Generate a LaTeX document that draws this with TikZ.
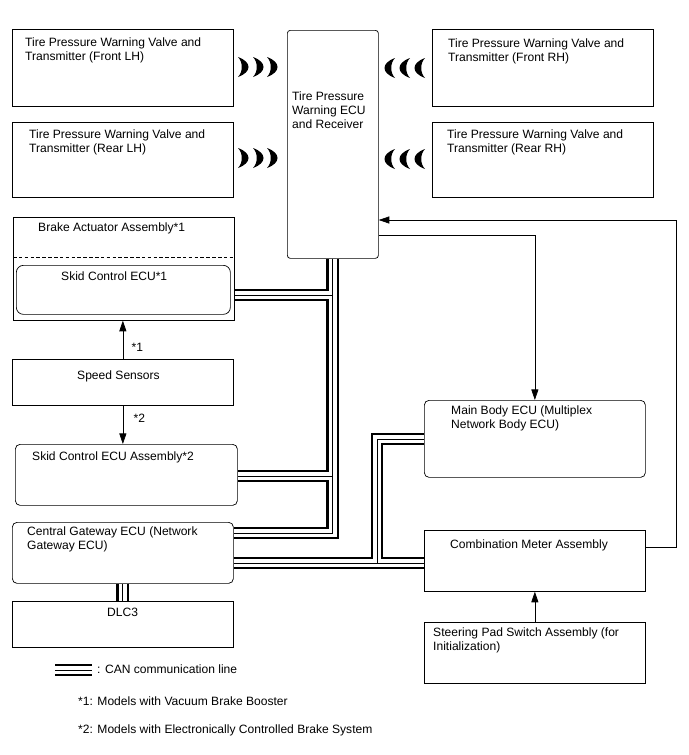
\documentclass[tikz,border=0pt]{standalone}
\usepackage{fontspec}
\setmainfont{Liberation Sans}
\usepackage{tikz}
\usetikzlibrary{positioning,arrows.meta,calc}

\begin{document}
\begin{tikzpicture}[x=0.03cm, y=-0.03cm, font=\fontsize{10.3pt}{11.9pt}\selectfont, >={Triangle[length=9pt,width=6pt]}]
\tikzset{box/.style={draw, line width=0.6pt, anchor=north west, inner sep=0pt, minimum width=6.63cm},
  txt/.style={anchor=north west, inner sep=0pt, align=left},
  can/.style={line width=11pt, postaction={draw, white, line width=6.8pt}, postaction={draw, black, line width=0.85pt}},
  sig/.style={->, line width=0.6pt}}
\useasboundingbox (0,0) rectangle (688,755);
% sensors and receiver
\node[box, minimum height=2.31cm] (fl) at (12,29) {};
\node[box, minimum height=2.25cm] (rl) at (12,122) {};
\node[box, minimum height=2.31cm] (fr) at (432,29) {};
\node[box, minimum height=2.25cm] (rr) at (432,122) {};
\node[box, rounded corners=2.5pt, minimum width=2.73cm, minimum height=6.84cm] (tpms) at (287,30) {};
\node[txt] (flt) at ($(fl.north west)+(13,9)$) {Tire Pressure Warning Valve and\\Transmitter (Front LH)};
\node[txt] (rlt) at ($(rl.north west)+(17,8)$) {Tire Pressure Warning Valve and\\Transmitter (Rear LH)};
\node[txt] (frt) at ($(fr.north west)+(16,10)$) {Tire Pressure Warning Valve and\\Transmitter (Front RH)};
\node[txt] (rrt) at ($(rr.north west)+(15,8)$) {Tire Pressure Warning Valve and\\Transmitter (Rear RH)};
\node[txt] (tpt) at ($(tpms.north west)+(5,62)$) {Tire Pressure\\Warning ECU\\and Receiver};
% radio waves
\foreach \cx/\cy in {238/67, 253/67, 267/67, 238/158, 253/158, 267/158}
  \fill[shift={(\cx,\cy)}] (0,-10) .. controls (14,-5) and (14,5) .. (0,10) .. controls (5,5) and (5,-5) .. (0,-10);
\foreach \cx/\cy in {395/68, 410/68, 425/68, 395/159, 410/159, 425/159}
  \fill[shift={(\cx,\cy)}, xscale=-1] (0,-10) .. controls (14,-5) and (14,5) .. (0,10) .. controls (5,5) and (5,-5) .. (0,-10);
% brake side
\node[box, minimum height=3.09cm] (ba) at (13,217) {};
\draw[line width=0.6pt, dash pattern=on 3pt off 2pt] ($(ba.north west)+(0,40)$) -- ($(ba.north east)+(0,40)$);
\node[box, rounded corners=6pt, minimum width=6.42cm, minimum height=1.47cm] (sk1) at (16,265) {};
\node[box, minimum height=1.38cm] (ss) at (12,359) {};
\node[box, rounded corners=4pt, minimum width=6.66cm, minimum height=1.83cm] (sk2) at (15,444) {};
\node[box, rounded corners=4pt, minimum height=1.83cm] (gw) at (12,522) {};
\node[box, minimum height=1.38cm] (dlc) at (12,601) {};
\node[txt] (bat) at ($(ba.north west)+(25,6)$) {Brake Actuator Assembly*1};
\node[txt] (sk1t) at ($(sk1.north west)+(45,7)$) {Skid Control ECU*1};
\node[txt] (sst) at ($(ss.north west)+(65,12)$) {Speed Sensors};
\node[txt] (sk2t) at ($(sk2.north west)+(17,8)$) {Skid Control ECU Assembly*2};
\node[txt] (gwt) at ($(gw.north west)+(15,5)$) {Central Gateway ECU (Network\\Gateway ECU)};
\node[txt] (dlct) at ($(dlc.north west)+(95,7)$) {DLC3};
% body side
\node[box, rounded corners=4pt, minimum height=2.31cm] (mb) at (424,400) {};
\node[box, minimum height=1.83cm] (cm) at (424,530) {};
\node[box, minimum height=1.83cm] (sp) at (424,622) {};
\node[txt] (mbt) at ($(mb.north west)+(27,6)$) {Main Body ECU (Multiplex\\Network Body ECU)};
\node[txt] (cmt) at ($(cm.north west)+(26,10)$) {Combination Meter Assembly};
\node[txt] (spt) at ($(sp.north west)+(9,6)$) {Steering Pad Switch Assembly (for\\Initialization)};
% signal lines
\draw[sig] (ss.north) -- (ss.north |- ba.south);
\node[txt] (st1) at ($(ss.north)+(8.5,-16)$) {*1};
\draw[sig] (ss.south) -- (ss.south |- sk2.north);
\node[txt] (st2) at ($(ss.south)+(10.5,8)$) {*2};
\draw[sig] (sp.north) -- (cm.south);
\coordinate (cmout) at ($(cm.north east)+(0,17)$);
\coordinate (tpin) at ($(tpms.north east)+(0,190)$);
\coordinate (tpout) at ($(tpms.north east)+(0,205)$);
\draw[sig] (cmout) -- ++(31,0) |- (tpin);
\draw[sig] (tpout) -| (mb.north);
% CAN bus
\coordinate (gwa) at ($(gw.north east)+(0,11)$);
\coordinate (gwb) at ($(gw.north east)+(0,41)$);
\coordinate (baa) at ($(ba.north east)+(0,78)$);
\coordinate (sk2a) at ($(sk2.north east)+(0,32)$);
\coordinate (mba) at ($(mb.north west)+(0,39)$);
\coordinate (cma) at (cm.west |- gwb);
\coordinate (jn) at ($(cma)+(-47,0)$);
\draw[can] (tpms.south) |- (gwa)
  (tpms.south |- baa) -- (baa)
  (tpms.south |- sk2a) -- (sk2a)
  (gwb) -- (cma)
  (jn) |- (mba)
  (gw.south) -- (dlc.north);
% legend
\coordinate (lga) at (55,670);
\coordinate (lgb) at (92,670);
\draw[can] (lga) -- (lgb);
\node[txt] (lgt) at (97,665) {: CAN communication line};
\node[txt] (nt1) at (78,697) {*1: Models with Vacuum Brake Booster};
\node[txt] (nt2) at (78,725) {*2: Models with Electronically Controlled Brake System};
\end{tikzpicture}
\end{document}
